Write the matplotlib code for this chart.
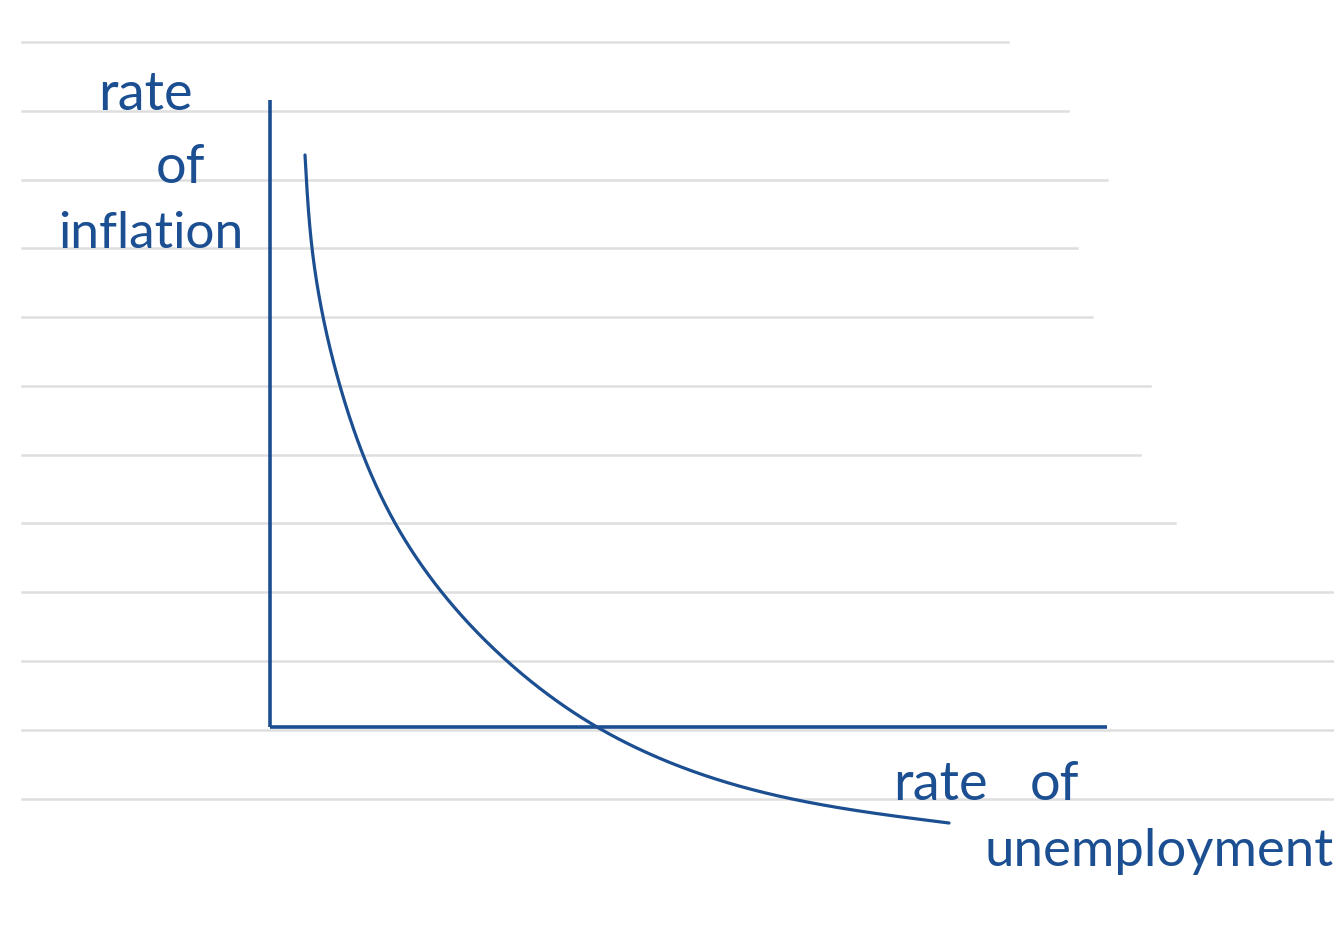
import numpy as np
import matplotlib.pyplot as plt

# ruled paper lines (y position, right end)
rule_y = [42, 111, 180, 248, 317, 386, 455, 523, 592, 661, 730, 799]
rule_end = [1008, 1068, 1107, 1077, 1092, 1150, 1140, 1175, 1334, 1334, 1334, 1334]
rule_start = 22

# axes of the sketch
origin = (270, 727)
y_axis_top = 100
x_axis_end = 1107

# Phillips curve
curve_x = [305, 312, 340, 395, 507, 597, 750, 949]
curve_y = [155, 248, 386, 523, 661, 727, 789, 823]

ink = '#1b4f91'


def natural_spline(t, v, tt):
    """Natural cubic spline of v(t) evaluated at tt."""
    n = len(t)
    h = np.diff(t)
    A = np.zeros((n, n))
    b = np.zeros(n)
    A[0, 0] = A[-1, -1] = 1
    for i in range(1, n - 1):
        A[i, i - 1] = h[i - 1]
        A[i, i] = 2 * (h[i - 1] + h[i])
        A[i, i + 1] = h[i]
        b[i] = 6 * ((v[i + 1] - v[i]) / h[i] - (v[i] - v[i - 1]) / h[i - 1])
    m = np.linalg.solve(A, b)
    idx = np.clip(np.searchsorted(t, tt) - 1, 0, n - 2)
    t0, t1 = t[idx], t[idx + 1]
    hh = t1 - t0
    a = (t1 - tt) / hh
    c = (tt - t0) / hh
    return (a * v[idx] + c * v[idx + 1]
            + ((a ** 3 - a) * m[idx] + (c ** 3 - c) * m[idx + 1]) * hh ** 2 / 6)


def smooth_path(xs, ys, num=600):
    xs = np.asarray(xs, float)
    ys = np.asarray(ys, float)
    seg = np.hypot(np.diff(xs), np.diff(ys))
    t = np.concatenate([[0], np.cumsum(seg)])
    tt = np.linspace(0, t[-1], num)
    return natural_spline(t, xs, tt), natural_spline(t, ys, tt)


fig = plt.figure(figsize=(13.34, 9.27), dpi=100)
ax = fig.add_axes([0, 0, 1, 1])
ax.set_xlim(0, 1334)
ax.set_ylim(927, 0)
ax.axis('off')

for y, x1 in zip(rule_y, rule_end):
    ax.plot([rule_start, x1], [y, y], color='#dedede', lw=1.8, zorder=1)

ax.plot([origin[0], origin[0]], [y_axis_top, origin[1]], color=ink, lw=2.6,
        solid_capstyle='butt', zorder=3)
ax.plot([origin[0], x_axis_end], [origin[1], origin[1]], color=ink, lw=2.6,
        solid_capstyle='butt', zorder=3)

cx, cy = smooth_path(curve_x, curve_y)
ax.plot(cx, cy, color=ink, lw=2.3, solid_capstyle='round', zorder=4)

font = dict(family=['Lato', 'DejaVu Sans'], weight='normal', color=ink, zorder=5)
ax.text(145, 110, 'rate', fontsize=39, ha='center', va='baseline', **font)
ax.text(180, 183, 'of', fontsize=39, ha='center', va='baseline', **font)
ax.text(151, 248, 'inflation', fontsize=37, ha='center', va='baseline', **font)
ax.text(893, 800, 'rate', fontsize=39, ha='left', va='baseline', **font)
ax.text(1030, 800, 'of', fontsize=39, ha='left', va='baseline', **font)
ax.text(985, 866, 'unemployment', fontsize=38, ha='left', va='baseline', **font)

fig.savefig('out.png', dpi=100, facecolor='white')
